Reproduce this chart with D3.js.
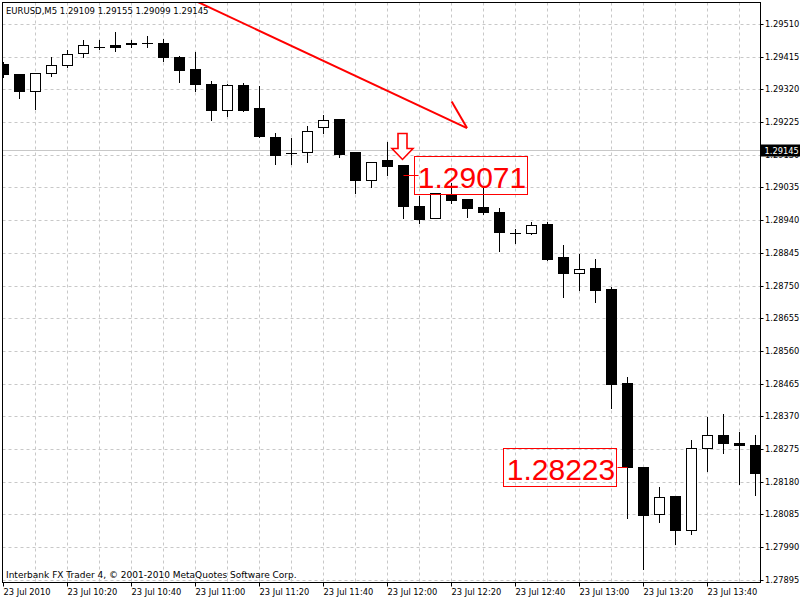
<!DOCTYPE html>
<html>
<head>
<meta charset="utf-8">
<script src="https://cdn.jsdelivr.net/npm/d3@7"></script>
<style>
  body { margin: 0; background: #fff; }
  svg { display: block; }
  text { font-family: "DejaVu Sans", Verdana, sans-serif; font-size: 8.3px; }
  text.title { font-size: 8.5px; }
  text.footer { font-size: 9px; }
  text.big { font-family: "Liberation Sans", Arial, sans-serif; font-size: 30px; }
</style>
</head>
<body>
<svg id="chart"></svg>
<script>
// EURUSD M5 bars, 23 Jul 2010
const times = ["10:00","10:05","10:10","10:15","10:20","10:25","10:30","10:35","10:40","10:45","10:50","10:55",
               "11:00","11:05","11:10","11:15","11:20","11:25","11:30","11:35","11:40","11:45","11:50","11:55",
               "12:00","12:05","12:10","12:15","12:20","12:25","12:30","12:35","12:40","12:45","12:50","12:55",
               "13:00","13:05","13:10","13:15","13:20","13:25","13:30","13:35","13:40","13:45","13:50","13:55"];
const open  = [1.29395,1.29366,1.29316,1.29367,1.29392,1.29426,1.29444,1.29448,1.29455,1.29454,1.29455,1.29415,
               1.29378,1.29337,1.29260,1.29334,1.29265,1.29183,1.29135,1.29139,1.29211,1.29233,1.29138,1.29056,
               1.29116,1.29099,1.28982,1.28947,1.29015,1.29003,1.28977,1.28964,1.28903,1.28903,1.28928,1.28832,
               1.28787,1.28800,1.28739,1.28466,1.28223,1.28087,1.28138,1.28041,1.28279,1.28315,1.28294,1.28286];
const high  = [1.29401,1.29367,1.29368,1.29415,1.29436,1.29465,1.29465,1.29488,1.29465,1.29477,1.29467,1.29419,
               1.29430,1.29345,1.29337,1.29340,1.29331,1.29196,1.29179,1.29215,1.29247,1.29235,1.29141,1.29108,
               1.29169,1.29099,1.29012,1.29018,1.29049,1.29003,1.29037,1.28977,1.28916,1.28936,1.28936,1.28869,
               1.28843,1.28829,1.28748,1.28485,1.28223,1.28166,1.28138,1.28303,1.28370,1.28378,1.28326,1.28317];
const low   = [1.29358,1.29297,1.29265,1.29361,1.29386,1.29416,1.29439,1.29434,1.29446,1.29446,1.29405,1.29344,
               1.29318,1.29233,1.29244,1.29259,1.29183,1.29105,1.29105,1.29111,1.29196,1.29126,1.29021,1.29039,
               1.29074,1.28949,1.28934,1.28947,1.28992,1.28952,1.28960,1.28852,1.28875,1.28902,1.28825,1.28719,
               1.28739,1.28705,1.28397,1.28077,1.27928,1.28065,1.28001,1.28029,1.28214,1.28266,1.28176,1.28143];
const close = [1.29364,1.29315,1.29368,1.29392,1.29423,1.29448,1.29444,1.29443,1.29451,1.29454,1.29414,1.29376,
               1.29335,1.29260,1.29333,1.29260,1.29184,1.29129,1.29135,1.29200,1.29231,1.29132,1.29056,1.29108,
               1.29098,1.28981,1.28943,1.29018,1.29000,1.28976,1.28964,1.28905,1.28903,1.28927,1.28826,1.28786,
               1.28799,1.28737,1.28465,1.28223,1.28083,1.28137,1.28040,1.28277,1.28317,1.28292,1.28286,1.28205];

const priceTicks = [1.27895,1.27990,1.28085,1.28180,1.28275,1.28370,1.28465,1.28560,1.28655,
                    1.28750,1.28845,1.28940,1.29035,1.29130,1.29225,1.29320,1.29415,1.29510];
const timeTickBars = [0,4,8,12,16,20,24,28,32,36,40,44];
const timeTickLabels = ["23 Jul 2010","23 Jul 10:20","23 Jul 10:40","23 Jul 11:00","23 Jul 11:20","23 Jul 11:40",
                        "23 Jul 12:00","23 Jul 12:20","23 Jul 12:40","23 Jul 13:00","23 Jul 13:20","23 Jul 13:40"];

const title = "EURUSD,M5  1.29109 1.29155 1.29099 1.29145";
const footer = "Interbank FX Trader 4, \u00A9 2001-2010 MetaQuotes Software Corp.";
const bidPrice = 1.29145;

// chart objects (bar index / price anchors)
const trendBars = [12.16, 28.97], trendPrices = [1.29575, 1.29209];
const headBars = [28.01, 28.97], headPrices = [1.29286, 1.29209];
const arrowBar = 25, arrowPrice = 1.29118;
const labelBars = [25, 39], labelPrices = [1.29071, 1.28223], labelSides = ["right", "left"];

const width = 800, height = 600;
const plotL = 2.5, plotR = 760.5, plotT = 2.5, plotB = 582.5;

const svg = d3.select("#chart").attr("width", width).attr("height", height);

const x = d3.scaleLinear().domain([0, 47]).range([3.5, 755.5]);
const y = d3.scaleLinear().domain([1.27895, 1.29510]).range([580.4, 24.5]);
const snap = v => Math.floor(v) + 0.5;

svg.append("clipPath").attr("id", "plot")
    .append("rect").attr("x", 3).attr("y", 3).attr("width", plotR - 3.5).attr("height", plotB - 3.5);

const plot = svg.append("g").attr("clip-path", "url(#plot)");

// grid
plot.selectAll("line.hgrid")
    .data(priceTicks)
    .enter().append("line")
    .attr("x1", plotL).attr("x2", plotR)
    .attr("y1", d => snap(y(d))).attr("y2", d => snap(y(d)))
    .attr("stroke", "#c8c8c8").attr("stroke-dasharray", "3,3");

const gridBars = d3.range(2, 48, 2);
plot.selectAll("line.vgrid")
    .data(gridBars)
    .enter().append("line")
    .attr("x1", d => x(d)).attr("x2", d => x(d))
    .attr("y1", plotT).attr("y2", plotB)
    .attr("stroke", "#c8c8c8").attr("stroke-dasharray", "3,3");

// bid line
plot.append("line")
    .attr("x1", plotL).attr("x2", plotR)
    .attr("y1", snap(y(bidPrice))).attr("y2", snap(y(bidPrice)))
    .attr("stroke", "#c8c8c8");

// candles
const bars = times.map((t, i) => ({ i, t, o: open[i], h: high[i], l: low[i], c: close[i] }));

const candle = plot.selectAll("g.candle")
    .data(bars)
    .enter().append("g");

candle.append("line")
    .attr("x1", d => x(d.i)).attr("x2", d => x(d.i))
    .attr("y1", d => Math.round(y(d.h))).attr("y2", d => Math.round(y(d.l)) + 1)
    .attr("stroke", "#000");

candle.each(function (d) {
    const g = d3.select(this);
    const yTop = snap(y(Math.max(d.o, d.c)));
    const yBot = snap(y(Math.min(d.o, d.c)));
    if (yBot - yTop < 0.5) {
        g.append("line")
            .attr("x1", x(d.i) - 5.5).attr("x2", x(d.i) + 5.5)
            .attr("y1", yTop).attr("y2", yTop)
            .attr("stroke", "#000");
    } else {
        g.append("rect")
            .attr("x", x(d.i) - 5).attr("width", 10)
            .attr("y", yTop).attr("height", yBot - yTop)
            .attr("fill", d.c < d.o ? "#000" : "#fff")
            .attr("stroke", "#000");
    }
});

// trend line with hand-drawn head
const lineGen = d3.line().x(d => x(d[0])).y(d => y(d[1]));
plot.append("path")
    .attr("d", lineGen(d3.zip(trendBars, trendPrices)))
    .attr("fill", "none").attr("stroke", "#ff0000").attr("stroke-width", 2);
plot.append("path")
    .attr("d", lineGen(d3.zip(headBars, headPrices)))
    .attr("fill", "none").attr("stroke", "#ff0000").attr("stroke-width", 2);

// down arrow
const ax = x(arrowBar) - 1, at = y(arrowPrice);
plot.append("path")
    .attr("d", `M${ax - 4.5},${at - 26} L${ax + 4.5},${at - 26} L${ax + 4.5},${at - 11} L${ax + 10.5},${at - 11}
                L${ax},${at} L${ax - 10.5},${at - 11} L${ax - 4.5},${at - 11} Z`)
    .attr("fill", "#fff").attr("stroke", "#ff0000").attr("stroke-width", 1.6);

// price labels
labelBars.forEach((b, k) => {
    const lx = x(b), ly = snap(y(labelPrices[k]));
    const toRight = labelSides[k] === "right";
    const boxX = toRight ? lx + 10.8 : lx - 124.2;
    plot.append("line")
        .attr("x1", lx).attr("x2", toRight ? lx + 15 : lx - 10)
        .attr("y1", ly).attr("y2", ly)
        .attr("stroke", "#ff0000");
    plot.append("rect")
        .attr("x", Math.round(boxX) + 0.5).attr("y", ly - 19)
        .attr("width", 113).attr("height", 38)
        .attr("fill", "none").attr("stroke", "#ff0000");
    plot.append("text")
        .attr("class", "big")
        .attr("x", boxX + 3.5).attr("y", ly + 12)
        .attr("fill", "#ff0000")
        .text(labelPrices[k].toFixed(5));
});

// frame
svg.append("rect")
    .attr("x", plotL).attr("y", plotT)
    .attr("width", plotR - plotL).attr("height", plotB - plotT)
    .attr("fill", "none").attr("stroke", "#000");

// right price axis
const yAxis = svg.append("g")
    .attr("transform", `translate(${plotR},0)`)
    .call(d3.axisRight(y).tickValues(priceTicks).tickSize(3).tickPadding(1.5)
        .tickFormat(d3.format(".5f")).offset(0));
yAxis.attr("font-family", null).attr("font-size", null);
yAxis.select(".domain").remove();
yAxis.selectAll(".tick").attr("transform", d => `translate(0,${snap(y(d))})`);
yAxis.selectAll("text").attr("fill", "#000");

// bid label
const by = snap(y(bidPrice));
svg.append("rect").attr("x", 761).attr("y", by - 6).attr("width", 39).attr("height", 12).attr("fill", "#000");
svg.append("text").attr("x", 764.5).attr("y", by + 3.5).attr("fill", "#fff").text(bidPrice.toFixed(5));

// bottom time axis
const xAxis = svg.append("g")
    .attr("transform", `translate(0,${plotB})`)
    .call(d3.axisBottom(x).tickValues(timeTickBars).tickSize(4)
        .tickFormat((d, i) => timeTickLabels[i]).offset(0));
xAxis.attr("font-family", null).attr("font-size", null);
xAxis.select(".domain").remove();
xAxis.selectAll("text")
    .attr("text-anchor", "start").attr("x", 0)
    .attr("fill", "#000");

// texts
svg.append("text").attr("class", "title").attr("x", 6).attr("y", 14).attr("fill", "#000").text(title);
svg.append("text").attr("class", "footer").attr("x", 6).attr("y", 578).attr("fill", "#000").text(footer);
</script>
</body>
</html>
